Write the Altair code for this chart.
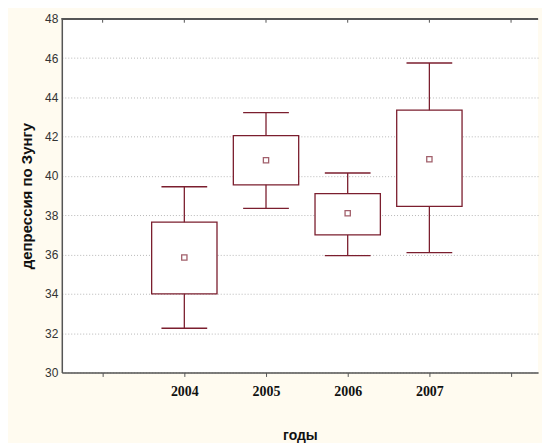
import altair as alt
import pandas as pd

years = [2004, 2005, 2006, 2007]
means = [35.85, 40.8, 38.1, 40.85]
box_low = [34.0, 39.55, 37.0, 38.45]
box_high = [37.65, 42.05, 39.1, 43.35]
whisk_low = [32.25, 38.35, 35.95, 36.1]
whisk_high = [39.45, 43.22, 40.15, 45.75]

x_ticks = [2003, 2004, 2005, 2006, 2007, 2008]
y_ticks = [30, 32, 34, 36, 38, 40, 42, 44, 46, 48]

df = pd.DataFrame({
    "year": years, "mean": means, "blo": box_low, "bhi": box_high,
    "wlo": whisk_low, "whi": whisk_high,
})
ticks_df = pd.DataFrame({"t": x_ticks})

COL = "#7b1e2e"
XDOM = [2002.5, 2008.33]
YDOM = [30, 48]

xs = alt.Scale(domain=XDOM, nice=False, zero=False)
ys = alt.Scale(domain=YDOM, nice=False, zero=False)

x_axis = alt.Axis(
    values=x_ticks, title="годы",
    labelExpr="(datum.value >= 2004 && datum.value <= 2007) ? format(datum.value, 'd') : ''",
    labelFont="Liberation Serif", labelFontSize=14, labelFontWeight="bold", labelColor="#111",
    labelPadding=8, labelOverlap=False, tickSize=4, tickColor="#555", domainColor="#555",
    domainWidth=1.5, grid=False, titleFont="Liberation Sans", titleFontSize=14,
    titleFontWeight="bold", titleColor="#111", titlePadding=30,
)
y_axis = alt.Axis(
    values=y_ticks, title="депрессия по Зунгу", format="d",
    labelFont="Liberation Sans", labelFontSize=12, labelColor="#333", labelPadding=4,
    labelOverlap=False, ticks=False, domainColor="#555", domainWidth=1.5,
    grid=True, gridColor="#b8b8b8", gridDash=[1, 2], gridWidth=1,
    titleFont="Liberation Sans", titleFontSize=15, titleFontWeight="bold",
    titleColor="#111", titlePadding=10,
)

X = lambda f: alt.X(f, type="quantitative", scale=xs, axis=x_axis)
Y = lambda f: alt.Y(f, type="quantitative", scale=ys, axis=y_axis)

base = alt.Chart(df).transform_calculate(
    bx1="datum.year - 0.4", bx2="datum.year + 0.4",
    cx1="datum.year - 0.28", cx2="datum.year + 0.28",
)

whisker = base.mark_rule(color=COL, strokeWidth=1.3).encode(
    x=X("year"), y=Y("wlo"), y2="whi:Q")
cap_lo = base.mark_rule(color=COL, strokeWidth=1.3).encode(
    x=X("cx1"), x2="cx2:Q", y=Y("wlo"))
cap_hi = base.mark_rule(color=COL, strokeWidth=1.3).encode(
    x=X("cx1"), x2="cx2:Q", y=Y("whi"))
box = base.mark_rect(fill="white", stroke=COL, strokeWidth=1.3).encode(
    x=X("bx1"), x2="bx2:Q", y=Y("blo"), y2="bhi:Q")
mean = base.mark_square(size=28, filled=False, color=COL, strokeWidth=1.3).encode(
    x=X("year"), y=Y("mean"))

top_line = alt.Chart(ticks_df).mark_rule(color="#555", strokeWidth=1.5).encode(
    x=alt.datum(XDOM[0], type="quantitative", scale=xs, axis=x_axis),
    x2=alt.datum(XDOM[1]),
    y=alt.datum(YDOM[1], type="quantitative", scale=ys, axis=y_axis),
)
top_ticks = alt.Chart(ticks_df).mark_rule(color="#555", strokeWidth=1).encode(
    x=X("t"),
    y=alt.datum(YDOM[1], type="quantitative", scale=ys, axis=y_axis),
    y2=alt.datum(YDOM[1] - 0.2),
)

chart = alt.layer(whisker, cap_lo, cap_hi, box, mean, top_line, top_ticks).properties(
    width=478, height=355,
    autosize=alt.AutoSizeParams(type="none"),
    padding={"left": 54, "top": 10, "right": 4, "bottom": 70},
    background="#fffbf0",
).configure_view(fill="white", stroke=None)

chart.save("out.html", embed_options={"renderer": "svg", "actions": False})
